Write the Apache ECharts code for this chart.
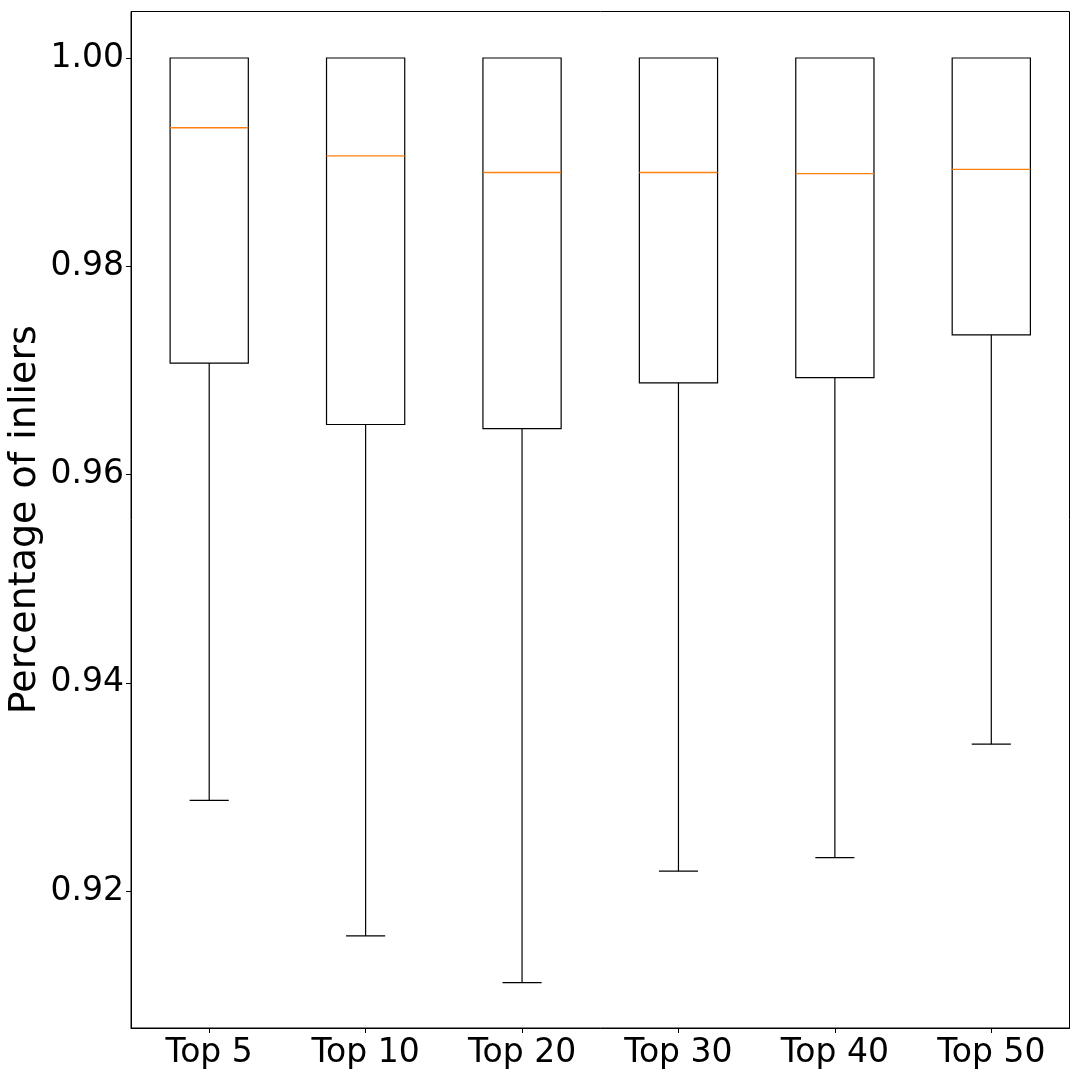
<!DOCTYPE html>
<html>
<head>
<meta charset="utf-8">
<script src="https://cdn.jsdelivr.net/npm/echarts@6/dist/echarts.min.js"></script>
<style>
html,body{margin:0;padding:0;background:#fff;}
#chart{width:1080px;height:1080px;}
</style>
</head>
<body>
<div id="chart"></div>
<script>
const categories = ['Top 5', 'Top 10', 'Top 20', 'Top 30', 'Top 40', 'Top 50'];
const whiskerLow = [0.9287, 0.9157, 0.9112, 0.9219, 0.9232, 0.9341];
const q1 = [0.9707, 0.9648, 0.9644, 0.9688, 0.9693, 0.9734];
const median = [0.9933, 0.9906, 0.9890, 0.9890, 0.9889, 0.9893];
const q3 = [1.0, 1.0, 1.0, 1.0, 1.0, 1.0];
const whiskerHigh = [1.0, 1.0, 1.0, 1.0, 1.0, 1.0];
const yTicks = [0.92, 0.94, 0.96, 0.98, 1.00];
const yLabel = 'Percentage of inliers';

const boxData = categories.map((c, i) => [i, whiskerLow[i], q1[i], median[i], q3[i], whiskerHigh[i]]);

const FONT = 'DejaVu Sans';
const chart = echarts.init(document.getElementById('chart'), null, {renderer: 'canvas'});

function renderBox(params, api) {
  const x = api.value(0);
  const band = api.size([1, 0])[0];
  const half = band * 0.25;
  const capHalf = band * 0.125;
  const pLow = api.coord([x, api.value(1)]);
  const pQ1 = api.coord([x, api.value(2)]);
  const pMed = api.coord([x, api.value(3)]);
  const pQ3 = api.coord([x, api.value(4)]);
  const pHigh = api.coord([x, api.value(5)]);
  const cx = pQ1[0];
  const black = {stroke: '#000', lineWidth: 1.2, fill: null};
  const children = [
    {type: 'line', shape: {x1: cx, y1: pQ1[1], x2: cx, y2: pLow[1]}, style: black},
    {type: 'line', shape: {x1: cx - capHalf, y1: pLow[1], x2: cx + capHalf, y2: pLow[1]}, style: black}
  ];
  if (Math.abs(pHigh[1] - pQ3[1]) > 0.5) {
    children.push({type: 'line', shape: {x1: cx, y1: pQ3[1], x2: cx, y2: pHigh[1]}, style: black});
    children.push({type: 'line', shape: {x1: cx - capHalf, y1: pHigh[1], x2: cx + capHalf, y2: pHigh[1]}, style: black});
  }
  children.push({type: 'rect', shape: {x: cx - half, y: pQ3[1], width: half * 2, height: pQ1[1] - pQ3[1]}, style: {stroke: '#000', lineWidth: 1.2, fill: 'none'}});
  children.push({type: 'line', shape: {x1: cx - half, y1: pMed[1], x2: cx + half, y2: pMed[1]}, style: {stroke: '#ff7f0e', lineWidth: 1.4}});
  return {type: 'group', children: children};
}

chart.setOption({
  animation: false,
  backgroundColor: '#fff',
  grid: {left: 131, right: 10.5, top: 11.5, bottom: 52, show: true, borderColor: '#000', borderWidth: 1, containLabel: false, outerBoundsMode: 'none'},
  xAxis: {
    type: 'category',
    data: categories,
    boundaryGap: true,
    axisLine: {show: true, lineStyle: {color: '#000', width: 1}},
    axisTick: {show: true, alignWithLabel: true, length: 5, lineStyle: {color: '#000', width: 1}},
    axisLabel: {color: '#000', fontFamily: FONT, fontSize: 33, margin: 9},
    splitLine: {show: false}
  },
  yAxis: {
    type: 'value',
    min: 0.906843,
    max: 1.004466,
    name: yLabel,
    nameLocation: 'middle',
    nameRotate: 90,
    nameGap: 87,
    nameMoveOverlap: false,
    nameTextStyle: {color: '#000', fontFamily: FONT, fontSize: 38},
    axisLine: {show: true, lineStyle: {color: '#000', width: 1}},
    axisTick: {show: true, length: 5, lineStyle: {color: '#000', width: 1}, customValues: yTicks},
    axisLabel: {color: '#000', fontFamily: FONT, fontSize: 33, margin: 7, customValues: yTicks, formatter: v => v.toFixed(2)},
    splitLine: {show: false}
  },
  series: [{
    type: 'custom',
    renderItem: renderBox,
    data: boxData,
    encode: {x: 0, y: [1, 2, 3, 4, 5]},
    clip: false
  }]
});
</script>
</body>
</html>
